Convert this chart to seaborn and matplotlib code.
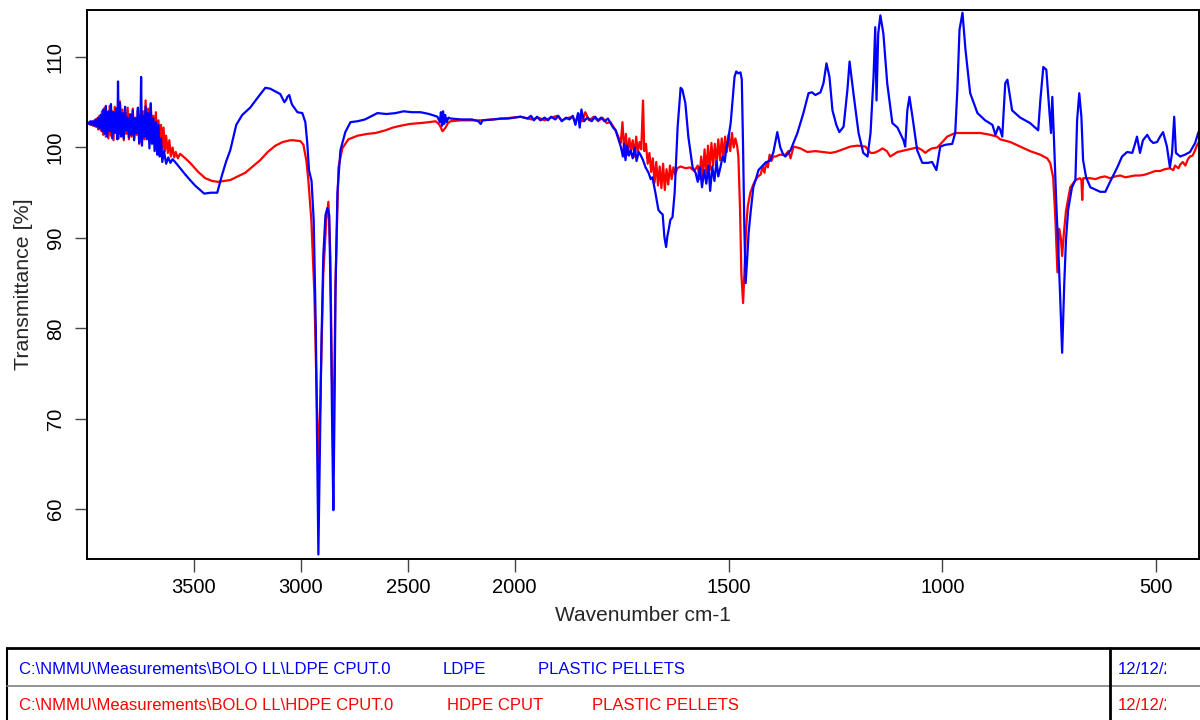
import numpy as np
import pandas as pd
import matplotlib
matplotlib.use("Agg")
import matplotlib.pyplot as plt
from matplotlib.lines import Line2D
from matplotlib.transforms import Bbox, TransformedBbox
import seaborn as sns

# ---------------- data ----------------
ldpe_wavenumber = [
    4000, 3996, 3990, 3984, 3978, 3972, 3966, 3960, 3954, 3948, 3942, 3936, 3930, 3924, 3918, 3912,
    3906, 3900, 3894, 3888, 3882, 3876, 3870, 3864, 3858, 3855, 3851, 3846, 3840, 3834, 3828, 3822,
    3816, 3810, 3804, 3798, 3792, 3786, 3780, 3774, 3768, 3762, 3756, 3750, 3747, 3743, 3738, 3732,
    3726, 3720, 3714, 3708, 3702, 3696, 3690, 3684, 3678, 3672, 3666, 3660, 3654, 3648, 3640, 3630,
    3620, 3610, 3600, 3588, 3564, 3540, 3518, 3495, 3471, 3452, 3420, 3391, 3368, 3350, 3330, 3302,
    3274, 3237, 3199, 3166, 3143, 3119, 3096, 3077, 3068, 3063, 3054, 3045, 3040, 3016, 2993, 2979,
    2970, 2962, 2950, 2940, 2930, 2924, 2918, 2912, 2904, 2895, 2885, 2876, 2867, 2860, 2853, 2848,
    2843, 2838, 2829, 2815, 2792, 2768, 2735, 2700, 2675, 2642, 2600, 2557, 2520, 2480, 2440, 2400,
    2361, 2350, 2345, 2340, 2335, 2330, 2325, 2318, 2310, 2300, 2250, 2200, 2170, 2159, 2150, 2100,
    2066, 2030, 1986, 1970, 1962, 1955, 1948, 1940, 1930, 1922, 1915, 1905, 1898, 1890, 1880, 1872,
    1864, 1858, 1852, 1848, 1844, 1838, 1830, 1820, 1812, 1805, 1798, 1790, 1782, 1776, 1770, 1764,
    1758, 1752, 1747, 1744, 1741, 1737, 1733, 1729, 1724, 1719, 1715, 1710, 1706, 1700, 1694, 1687,
    1682, 1678, 1671, 1664, 1659, 1654, 1650, 1646, 1643, 1640, 1636, 1631, 1626, 1619, 1612, 1608,
    1601, 1594, 1584, 1577, 1572, 1567, 1562, 1557, 1552, 1547, 1543, 1538, 1533, 1528, 1524, 1519,
    1514, 1509, 1505, 1502, 1498, 1495, 1491, 1486, 1482, 1477, 1472, 1469, 1466, 1463, 1460, 1456,
    1453, 1448, 1442, 1436, 1430, 1422, 1414, 1402, 1395, 1386, 1379, 1372, 1367, 1355, 1339, 1325,
    1313, 1305, 1297, 1285, 1278, 1271, 1264, 1257, 1248, 1241, 1231, 1222, 1217, 1208, 1196, 1185,
    1175, 1168, 1161, 1157, 1154, 1150, 1145, 1138, 1129, 1117, 1105, 1091, 1087, 1082, 1077, 1070,
    1059, 1047, 1033, 1024, 1014, 1005, 993, 977, 970, 965, 960, 953, 946, 935, 918, 900,
    883, 876, 869, 865, 860, 853, 848, 837, 818, 795, 776, 771, 764, 757, 750, 746,
    743, 739, 734, 729, 725, 720, 715, 711, 706, 697, 689, 685, 680, 675, 671, 664,
    654, 631, 619, 608, 591, 580, 568, 556, 549, 545, 538, 531, 521, 514, 507, 498,
    491, 484, 475, 468, 463, 458, 454, 444, 433, 421, 409, 402, 400,
]
ldpe_transmittance = [
    102.7, 102.7, 102.6, 102.9, 102.5, 102.9, 102.4, 103.1, 102.3, 103.3, 102.1, 103.6, 101.8, 104.2, 101.5, 104.6,
    101.2, 104.0, 101.8, 104.8, 101.0, 103.9, 101.6, 104.3, 100.9, 107.3, 101.5, 104.9, 101.2, 103.8, 101.0, 104.5,
    101.9, 103.3, 101.1, 103.6, 101.4, 104.1, 100.8, 103.2, 101.6, 104.4, 100.5, 103.0, 107.8, 100.2, 103.5, 101.2,
    104.5, 100.9, 103.8, 99.9, 104.9, 100.4, 103.2, 99.6, 102.8, 99.2, 102.5, 99.0, 101.0, 98.4, 99.6, 98.2,
    98.9, 98.3, 98.7, 98.4, 97.7, 97.0, 96.4, 95.8, 95.3, 94.9, 95.0, 95.0, 97.0, 98.4, 99.7, 102.5,
    103.6, 104.4, 105.6, 106.6, 106.5, 106.2, 105.9, 105.0, 105.3, 105.6, 105.8, 105.0, 104.7, 103.9, 103.8, 102.8,
    100.5, 97.5, 96.3, 92.0, 80.0, 68.0, 55.0, 65.0, 78.0, 88.0, 92.5, 93.3, 92.5, 82.0, 68.0, 59.9,
    70.0, 84.0, 95.0, 99.7, 101.7, 102.8, 102.9, 103.1, 103.4, 103.8, 103.7, 103.8, 104.0, 103.9, 103.9, 103.7,
    103.4, 102.8, 103.9, 102.4, 104.0, 102.6, 103.6, 102.8, 103.3, 103.2, 103.1, 103.1, 102.9, 102.6, 103.0, 103.1,
    103.2, 103.2, 103.4, 103.2, 103.5, 103.0, 103.4, 103.0, 103.3, 103.0, 103.4, 103.1, 103.5, 102.9, 103.3, 103.1,
    103.5, 102.5, 103.8, 102.2, 104.2, 102.9, 103.3, 102.9, 103.4, 103.0, 103.3, 102.9, 103.2, 102.7, 102.2, 101.9,
    101.0, 100.1, 99.0, 100.4, 98.6, 100.2, 99.1, 99.7, 98.8, 100.0, 98.5, 99.5, 99.2, 98.6, 97.8, 97.2,
    96.5, 96.7, 95.0, 93.1, 92.8, 92.6, 90.1, 89.0, 90.2, 90.9, 92.0, 92.3, 95.0, 102.3, 106.6, 106.4,
    104.9, 101.2, 97.8, 97.2, 96.2, 97.8, 95.6, 97.5, 96.0, 98.0, 95.2, 97.9, 96.3, 98.5, 96.8, 97.8,
    99.0, 98.4, 100.0, 100.5, 101.8, 102.7, 105.0, 107.8, 108.4, 108.2, 108.3, 107.5, 100.0, 91.0, 85.0, 88.0,
    90.6, 93.0, 95.6, 96.5, 97.5, 97.9, 98.3, 98.6, 99.5, 101.7, 100.0, 99.2, 99.0, 99.7, 101.6, 103.8,
    106.0, 106.1, 105.8, 106.1, 107.1, 109.3, 107.8, 104.1, 102.5, 101.7, 102.3, 106.4, 109.5, 106.0, 101.6, 99.4,
    99.0, 101.6, 107.8, 113.3, 105.2, 112.6, 114.6, 112.6, 107.1, 102.7, 102.2, 100.8, 100.1, 104.1, 105.6, 103.4,
    99.7, 98.3, 98.3, 98.4, 97.5, 100.1, 100.3, 100.4, 101.6, 106.4, 113.0, 114.9, 110.8, 106.0, 103.8, 103.0,
    102.5, 101.4, 102.3, 102.0, 101.2, 107.1, 107.5, 104.1, 103.3, 102.7, 101.9, 105.2, 108.9, 108.6, 104.1, 101.6,
    105.6, 100.8, 94.2, 88.7, 84.0, 77.3, 85.0, 89.8, 93.1, 95.6, 96.4, 103.0, 106.0, 103.4, 98.6, 96.7,
    95.6, 95.1, 95.1, 96.2, 97.8, 99.0, 99.5, 99.4, 100.5, 101.2, 99.4, 100.8, 101.4, 100.8, 100.5, 100.6,
    101.2, 101.7, 100.1, 97.8, 99.4, 103.4, 99.4, 99.0, 99.2, 99.5, 100.5, 101.6, 101.8,
]

hdpe_wavenumber = [
    4000, 3996, 3990, 3984, 3978, 3972, 3966, 3960, 3954, 3948, 3942, 3936, 3930, 3924, 3918, 3912,
    3906, 3900, 3894, 3888, 3882, 3876, 3870, 3864, 3858, 3852, 3846, 3840, 3834, 3828, 3822, 3816,
    3810, 3804, 3798, 3792, 3786, 3780, 3774, 3768, 3762, 3756, 3750, 3744, 3738, 3732, 3726, 3720,
    3714, 3708, 3702, 3696, 3690, 3684, 3678, 3672, 3666, 3660, 3654, 3648, 3642, 3636, 3630, 3622,
    3615, 3608, 3600, 3592, 3585, 3575, 3565, 3540, 3518, 3480, 3447, 3415, 3387, 3360, 3330, 3295,
    3260, 3225, 3190, 3155, 3119, 3085, 3049, 3035, 3002, 2988, 2974, 2965, 2951, 2937, 2928, 2918,
    2909, 2895, 2881, 2871, 2862, 2855, 2848, 2843, 2838, 2824, 2806, 2778, 2735, 2690, 2651, 2604,
    2570, 2534, 2490, 2440, 2400, 2370, 2355, 2347, 2340, 2337, 2330, 2323, 2312, 2300, 2250, 2159,
    2100, 2050, 1986, 1960, 1945, 1930, 1915, 1900, 1890, 1880, 1865, 1858, 1850, 1842, 1835, 1826,
    1815, 1805, 1795, 1785, 1776, 1764, 1756, 1752, 1748, 1744, 1740, 1736, 1732, 1728, 1724, 1720,
    1716, 1712, 1708, 1704, 1700, 1697, 1693, 1689, 1685, 1681, 1677, 1673, 1669, 1665, 1661, 1657,
    1653, 1649, 1645, 1641, 1637, 1633, 1629, 1625, 1620, 1612, 1600, 1590, 1580, 1572, 1568, 1564,
    1560, 1556, 1552, 1548, 1544, 1540, 1536, 1532, 1528, 1524, 1520, 1516, 1512, 1508, 1504, 1500,
    1496, 1492, 1488, 1484, 1480, 1477, 1473, 1470, 1466, 1463, 1459, 1455, 1449, 1443, 1437, 1431,
    1425, 1420, 1416, 1412, 1408, 1404, 1400, 1395, 1390, 1380, 1367, 1360, 1355, 1348, 1332, 1316,
    1297, 1280, 1262, 1250, 1238, 1215, 1199, 1180, 1175, 1168, 1160, 1150, 1140, 1130, 1122, 1115,
    1105, 1087, 1068, 1059, 1047, 1040, 1032, 1024, 1012, 1000, 989, 970, 946, 911, 888, 872,
    865, 841, 818, 795, 771, 755, 748, 741, 736, 731, 727, 723, 720, 716, 711, 701,
    689, 678, 675, 673, 671, 669, 654, 642, 631, 620, 608, 596, 584, 572, 561, 550,
    538, 526, 514, 502, 491, 480, 468, 460, 456, 448, 444, 438, 432, 426, 421, 415,
    410, 405, 400,
]
hdpe_transmittance = [
    102.7, 102.7, 102.8, 102.5, 102.9, 102.4, 103.0, 102.3, 103.2, 102.0, 103.5, 101.9, 104.0, 101.4, 104.4, 101.2,
    103.9, 101.0, 104.6, 101.3, 104.0, 100.8, 104.5, 101.6, 104.1, 101.0, 105.1, 101.3, 104.2, 100.8, 103.9, 101.5,
    104.4, 100.9, 103.7, 101.2, 104.3, 101.0, 103.3, 101.4, 104.1, 100.4, 103.6, 101.0, 104.0, 100.9, 105.2, 101.5,
    104.3, 100.6, 104.8, 101.0, 103.5, 100.6, 103.9, 100.2, 103.0, 100.3, 102.5, 99.8, 102.2, 99.6, 101.3, 99.4,
    100.8, 99.0, 100.0, 98.9, 99.5, 98.8, 99.3, 98.8, 98.3, 97.3, 96.6, 96.3, 96.2, 96.3, 96.4, 96.8,
    97.2, 97.9, 98.6, 99.5, 100.2, 100.6, 100.8, 100.8, 100.7, 100.3, 98.5, 96.4, 92.0, 84.0, 75.0, 64.5,
    72.0, 86.0, 92.0, 94.0, 88.0, 75.0, 67.0, 75.0, 85.0, 97.8, 99.9, 100.9, 101.3, 101.5, 101.6, 101.9,
    102.2, 102.4, 102.6, 102.7, 102.8, 102.9, 102.6, 102.3, 101.9, 101.8, 102.0, 102.2, 102.7, 102.9, 103.0, 103.0,
    103.1, 103.2, 103.4, 103.1, 103.3, 103.0, 103.3, 103.5, 103.0, 103.2, 103.4, 102.8, 103.7, 102.9, 103.9, 103.0,
    103.4, 102.9, 103.3, 102.7, 102.8, 101.9, 101.0, 100.5, 102.8, 99.5, 101.5, 99.2, 101.0, 99.7, 100.8, 99.0,
    101.2, 99.5, 100.6, 99.8, 105.2, 99.6, 100.4, 98.2, 99.4, 97.3, 98.8, 96.1, 98.4, 95.8, 97.9, 95.5,
    98.2, 95.3, 97.6, 95.9, 98.0, 96.5, 97.8, 97.0, 97.7, 97.9, 97.7, 97.8, 97.4, 98.0, 96.5, 99.0,
    96.8, 99.8, 97.2, 100.2, 97.5, 100.5, 98.0, 100.4, 98.3, 100.9, 98.6, 101.0, 98.9, 101.2, 99.5, 101.4,
    99.6, 101.6, 100.0, 101.0, 100.2, 99.0, 93.0, 86.0, 82.8, 86.0, 91.0, 93.5, 95.0, 95.8, 96.4, 96.8,
    97.0, 97.9, 97.2, 98.4, 97.8, 99.2, 98.5, 99.0, 99.0, 99.2, 99.2, 99.6, 98.8, 100.1, 99.9, 99.5,
    99.6, 99.5, 99.4, 99.5, 99.7, 100.1, 100.2, 100.1, 99.8, 99.4, 99.4, 99.6, 99.9, 99.6, 99.0, 99.2,
    99.5, 99.7, 99.9, 100.0, 99.7, 99.4, 99.7, 99.9, 100.0, 100.6, 101.2, 101.6, 101.6, 101.6, 101.4, 101.2,
    100.9, 100.6, 100.1, 99.6, 99.2, 98.8, 98.3, 96.7, 92.3, 86.2, 91.0, 90.0, 88.0, 90.5, 93.0, 95.6,
    96.4, 96.6, 96.4, 94.2, 96.6, 96.6, 96.6, 96.5, 96.7, 96.8, 96.6, 96.8, 96.9, 96.7, 96.8, 96.9,
    96.9, 97.0, 97.2, 97.4, 97.4, 97.6, 97.7, 97.5, 98.0, 97.7, 98.1, 98.4, 98.0, 98.7, 99.0, 99.1,
    99.6, 100.2, 100.6,
]

sample_names = ["LDPE", "HDPE"]
sample_colors = ["#0000FF", "#FF0000"]
x_ticks = [3500, 3000, 2500, 2000, 1500, 1000, 500]
y_ticks = [60, 70, 80, 90, 100, 110]
legend_rows = [
    ["C:\\NMMU\\Measurements\\BOLO LL\\LDPE CPUT.0", "LDPE", "PLASTIC PELLETS", "12/12/2013"],
    ["C:\\NMMU\\Measurements\\BOLO LL\\HDPE CPUT.0", "HDPE CPUT", "PLASTIC PELLETS", "12/12/2013"],
]

# ---------------- styling ----------------
sns.set_style("ticks")
plt.rcParams["font.family"] = ["Liberation Sans", "DejaVu Sans"]

df = pd.concat([
    pd.DataFrame({"Wavenumber": ldpe_wavenumber, "Transmittance": ldpe_transmittance, "Sample": sample_names[0]}),
    pd.DataFrame({"Wavenumber": hdpe_wavenumber, "Transmittance": hdpe_transmittance, "Sample": sample_names[1]}),
], ignore_index=True)

W, H = 1200, 720
fig = plt.figure(figsize=(W / 100, H / 100), dpi=100)
ax = fig.add_axes([87 / W, 1 - 559 / H, (1199 - 87) / W, (559 - 10) / H])

sns.lineplot(
    data=df, x="Wavenumber", y="Transmittance", hue="Sample",
    hue_order=["HDPE", "LDPE"], palette=dict(zip(sample_names, sample_colors)),
    estimator=None, sort=False, linewidth=1.6, legend=False, ax=ax,
)


# OPUS-style axis: region above 2000 cm-1 is compressed by a factor of 2
def _fwd(x):
    x = np.asarray(x, dtype=float)
    return np.where(x > 2000, 2000 + (x - 2000) / 2.0, x)


def _inv(y):
    y = np.asarray(y, dtype=float)
    return np.where(y > 2000, 2000 + (y - 2000) * 2.0, y)


ax.set_xscale("function", functions=(_fwd, _inv))
ax.set_xlim(4000, 400)
ax.set_ylim(54.5, 115.2)
ax.set_xticks(x_ticks)
ax.set_xticklabels([str(t) for t in x_ticks])
ax.set_yticks(y_ticks)
ax.set_yticklabels([str(t) for t in y_ticks])
ax.minorticks_off()

for sp in ax.spines.values():
    sp.set_visible(True)
    sp.set_color("black")
    sp.set_linewidth(1.4)

ax.tick_params(axis="both", direction="out", length=9, width=1.0, color="#444444",
               labelsize=14.5, labelcolor="black")
ax.tick_params(axis="x", pad=5)
ax.tick_params(axis="y", pad=7, labelrotation=90)
for lbl in ax.get_yticklabels():
    lbl.set_va("center")

ax.set_xlabel("Wavenumber cm-1", fontsize=15)
ax.set_ylabel("Transmittance [%]", fontsize=15.4)
ax.xaxis.set_label_coords(0.5, -(606 - 559) / 549)
ax.yaxis.set_label_coords((33 - 87) / 1112, 0.5)

# ---------------- legend table below the plot ----------------
def fx(px):
    return px / W


def fy(py):
    return 1 - py / H


fig.add_artist(Line2D([fx(7), fx(1200)], [fy(648), fy(648)], color="black", lw=2))
fig.add_artist(Line2D([fx(7), fx(7)], [fy(648), fy(720)], color="black", lw=1.5))
fig.add_artist(Line2D([fx(7), fx(1200)], [fy(686), fy(686)], color="#808080", lw=1.2))
fig.add_artist(Line2D([fx(1110), fx(1110)], [fy(648), fy(720)], color="black", lw=2))

row_y = [669, 706]
col_x = [[19, 443, 538, 1118], [19, 447, 592, 1118]]
clip = TransformedBbox(Bbox([[0, 0], [1166 / W, 1]]), fig.transFigure)
for r, (row, color) in enumerate(zip(legend_rows, sample_colors)):
    for c, txt in enumerate(row):
        t = fig.text(fx(col_x[r][c]), fy(row_y[r]), txt, color=color, fontsize=12,
                     ha="left", va="center")
        if c == 3:
            t.set_clip_box(clip)
            t.set_clip_on(True)

fig.savefig("out.png", dpi=100)
